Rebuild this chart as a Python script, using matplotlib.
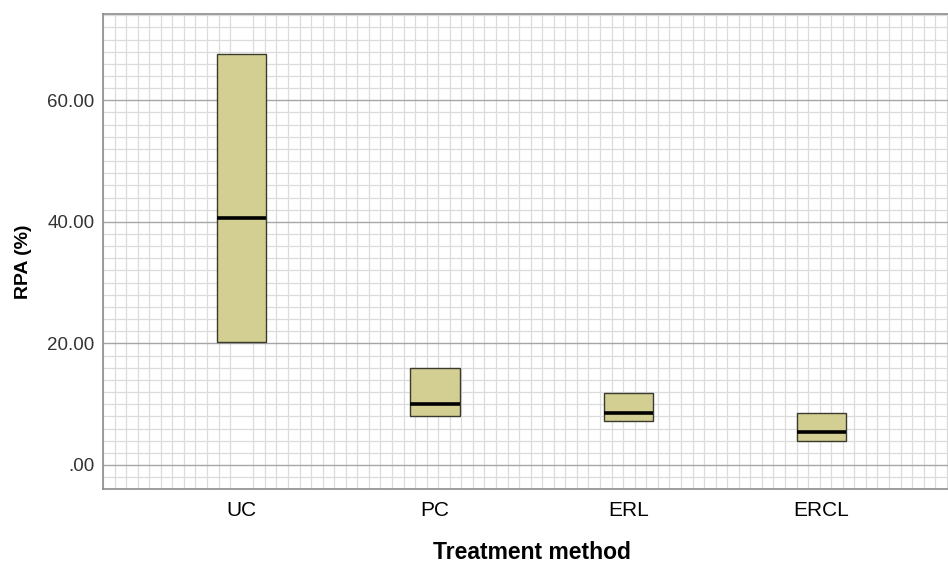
import matplotlib
matplotlib.use("Agg")
import matplotlib.pyplot as plt
from matplotlib.ticker import MultipleLocator

categories = ["UC", "PC", "ERL", "ERCL"]
q1 = [20.2, 8.05, 7.3, 4.0]
median = [40.6, 10.0, 8.6, 5.5]
q3 = [67.7, 16.0, 11.9, 8.6]
ytick_values = [0, 20, 40, 60]
ytick_labels = [".00", "20.00", "40.00", "60.00"]

plt.rcParams['font.family'] = ['Liberation Sans', 'DejaVu Sans']

fig = plt.figure(figsize=(9.48, 5.63), dpi=100)
ax = fig.add_axes([103/948, 1-489/563, 1-103/948, (489-14)/563])

stats = []
for c, a, m, b in zip(categories, q1, median, q3):
    stats.append(dict(label=c, q1=a, med=m, q3=b, whislo=a, whishi=b, fliers=[]))

pos = list(range(len(categories)))
ax.bxp(stats, positions=pos, widths=0.254, patch_artist=True, showcaps=False,
       boxprops=dict(facecolor="#D3CE91", edgecolor="#3a3a30", linewidth=1.0),
       medianprops=dict(color="black", linewidth=2.6),
       whiskerprops=dict(color="#3a3a30", linewidth=1.0), zorder=3)

ax.set_xlim(-0.7176, 3.654)
ax.set_ylim(-3.95, 74.2)

step = 0.0598
ax.xaxis.set_minor_locator(MultipleLocator(step))
ax.yaxis.set_minor_locator(MultipleLocator(2))
ax.set_yticks(ytick_values)
ax.set_yticklabels(ytick_labels)
ax.set_xticks(pos)
ax.set_xticklabels(categories)

ax.grid(which="minor", axis="both", color="#dcdcdc", linewidth=0.9, zorder=0)
ax.grid(which="major", axis="y", color="#a6a6a6", linewidth=1.0, zorder=0)
ax.set_axisbelow(True)

ax.tick_params(axis="both", which="both", length=0)
ax.tick_params(axis="y", labelsize=13.5, labelcolor="#333333", pad=6)
ax.tick_params(axis="x", labelsize=15, labelcolor="black", pad=9)

for s in ["left", "bottom", "top"]:
    ax.spines[s].set_color("#8c8c8c")
    ax.spines[s].set_linewidth(1.2)
ax.spines["right"].set_visible(False)

ax.set_ylabel("RPA (%)", fontsize=14, fontweight="bold")
ax.set_xlabel("Treatment method", fontsize=16.5, fontweight="bold")
ax.xaxis.set_label_coords(0.508, -0.11)
ax.yaxis.set_label_coords(-0.084, 0.478)

fig.savefig("out.png", dpi=100)
